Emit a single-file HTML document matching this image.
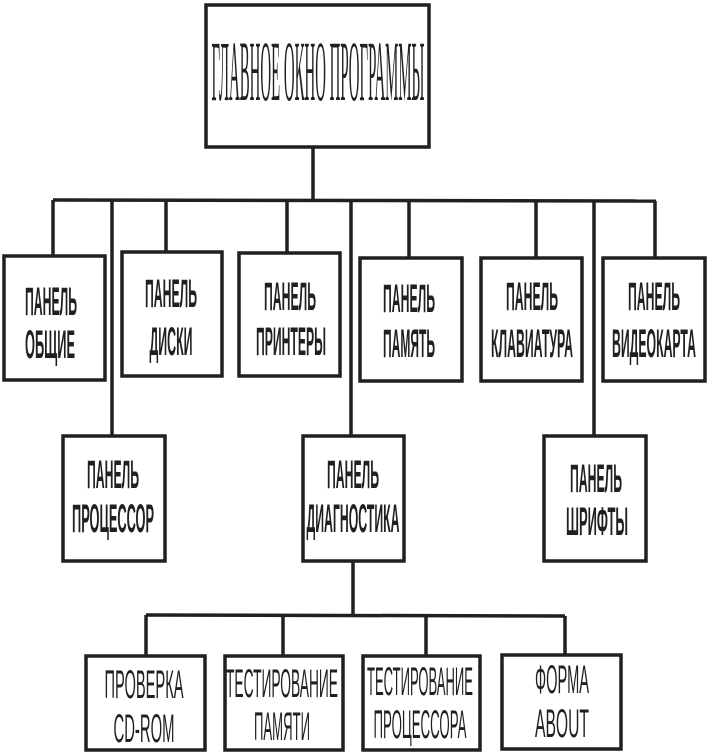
<!DOCTYPE html>
<html><head><meta charset="utf-8"><style>html,body{margin:0;padding:0;background:#fff}svg{display:block}</style></head>
<body>
<svg width="708" height="753" viewBox="0 0 708 753" xmlns="http://www.w3.org/2000/svg">
<g fill="none" stroke="#231f20" stroke-width="3.5">
<rect x="206" y="5" width="223" height="142"/>
<line x1="313" y1="147" x2="313" y2="200"/>
<line x1="53" y1="200" x2="656" y2="201"/>
<line x1="53" y1="200" x2="53" y2="256"/>
<line x1="112" y1="200" x2="112" y2="436"/>
<line x1="166" y1="200" x2="166" y2="251"/>
<line x1="287" y1="200" x2="287" y2="253"/>
<line x1="351" y1="200" x2="351" y2="436"/>
<line x1="409" y1="200" x2="409" y2="258"/>
<line x1="536" y1="200" x2="536" y2="258"/>
<line x1="594" y1="201" x2="594" y2="436"/>
<line x1="655" y1="201" x2="655" y2="258"/>
<rect x="4" y="256" width="101" height="124"/>
<rect x="122" y="252" width="100" height="124"/>
<rect x="239" y="253" width="101" height="123"/>
<rect x="360" y="258" width="102" height="123"/>
<rect x="481" y="258" width="101" height="123"/>
<rect x="603" y="258" width="102" height="123"/>
<rect x="63" y="436" width="102" height="125"/>
<rect x="303" y="436" width="101" height="125"/>
<rect x="544" y="436" width="102" height="125"/>
<line x1="353" y1="561" x2="353" y2="616"/>
<line x1="146" y1="615" x2="565" y2="616"/>
<line x1="146" y1="615" x2="146" y2="656"/>
<line x1="283" y1="615" x2="283" y2="656"/>
<line x1="426" y1="616" x2="426" y2="656"/>
<line x1="565" y1="616" x2="565" y2="655"/>
<rect x="86" y="656" width="119" height="94"/>
<rect x="225" y="656" width="118" height="94"/>
<rect x="363" y="656" width="117" height="94"/>
<rect x="502" y="655" width="119" height="94"/>
</g>
<g fill="#231f20" font-family="Liberation Serif, serif" text-anchor="middle">
<text x="318" y="100" font-size="86" textLength="213" lengthAdjust="spacingAndGlyphs">ГЛАВНОЕ ОКНО ПРОГРАММЫ</text>
</g>
<g fill="#231f20" font-family="Liberation Sans, sans-serif" font-weight="bold" font-size="40" text-anchor="middle">
<text x="51" y="315" textLength="52" lengthAdjust="spacingAndGlyphs">ПАНЕЛЬ</text>
<text x="50" y="358" textLength="50" lengthAdjust="spacingAndGlyphs">ОБЩИЕ</text>
<text x="171" y="307" textLength="52" lengthAdjust="spacingAndGlyphs">ПАНЕЛЬ</text>
<text x="171" y="355" textLength="43" lengthAdjust="spacingAndGlyphs">ДИСКИ</text>
<text x="290" y="310" textLength="52" lengthAdjust="spacingAndGlyphs">ПАНЕЛЬ</text>
<text x="291" y="355" textLength="70" lengthAdjust="spacingAndGlyphs">ПРИНТЕРЫ</text>
<text x="409" y="312" textLength="52" lengthAdjust="spacingAndGlyphs">ПАНЕЛЬ</text>
<text x="409" y="357" textLength="52" lengthAdjust="spacingAndGlyphs">ПАМЯТЬ</text>
<text x="532" y="310" textLength="52" lengthAdjust="spacingAndGlyphs">ПАНЕЛЬ</text>
<text x="532" y="357" textLength="82" lengthAdjust="spacingAndGlyphs">КЛАВИАТУРА</text>
<text x="654" y="310" textLength="52" lengthAdjust="spacingAndGlyphs">ПАНЕЛЬ</text>
<text x="654" y="357" textLength="84" lengthAdjust="spacingAndGlyphs">ВИДЕОКАРТА</text>
<text x="113" y="488" textLength="52" lengthAdjust="spacingAndGlyphs">ПАНЕЛЬ</text>
<text x="113" y="532" textLength="82" lengthAdjust="spacingAndGlyphs">ПРОЦЕССОР</text>
<text x="353" y="488" textLength="52" lengthAdjust="spacingAndGlyphs">ПАНЕЛЬ</text>
<text x="353" y="532" textLength="93" lengthAdjust="spacingAndGlyphs">ДИАГНОСТИКА</text>
<text x="596" y="492" textLength="52" lengthAdjust="spacingAndGlyphs">ПАНЕЛЬ</text>
<text x="597" y="535" textLength="62" lengthAdjust="spacingAndGlyphs">ШРИФТЫ</text>
</g>
<g fill="#231f20" font-family="Liberation Sans, sans-serif" font-size="40" text-anchor="middle">
<text x="144" y="698" textLength="79" lengthAdjust="spacingAndGlyphs">ПРОВЕРКА</text>
<text x="144" y="742" textLength="61" lengthAdjust="spacingAndGlyphs">CD-ROM</text>
<text x="282" y="697" textLength="112" lengthAdjust="spacingAndGlyphs">ТЕСТИРОВАНИЕ</text>
<text x="282" y="740" textLength="56" lengthAdjust="spacingAndGlyphs">ПАМЯТИ</text>
<text x="420" y="695" textLength="106" lengthAdjust="spacingAndGlyphs">ТЕСТИРОВАНИЕ</text>
<text x="420" y="738" textLength="93" lengthAdjust="spacingAndGlyphs">ПРОЦЕССОРА</text>
<text x="562" y="693" textLength="54" lengthAdjust="spacingAndGlyphs">ФОРМА</text>
<text x="562" y="737" textLength="54" lengthAdjust="spacingAndGlyphs">ABOUT</text>
</g>
</svg>
</body></html>
